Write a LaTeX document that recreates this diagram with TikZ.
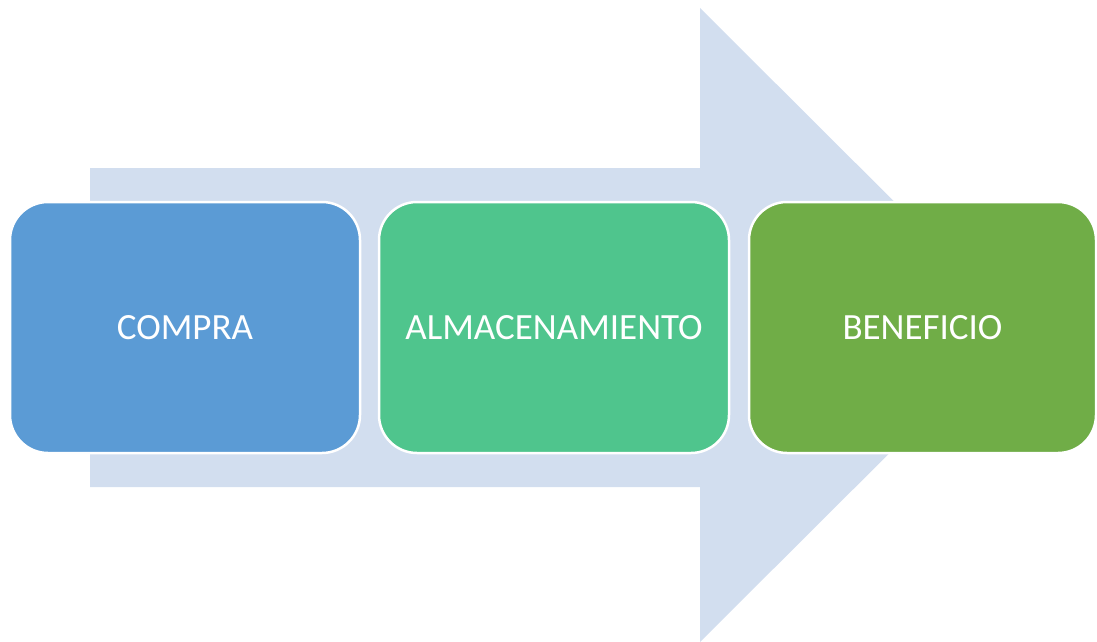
\documentclass[tikz,border=0pt]{standalone}
\usepackage{fontspec}
\setmainfont{Carlito}
\definecolor{arrowfill}{HTML}{D2DEEF}
\definecolor{boxblue}{HTML}{5B9BD5}
\definecolor{boxteal}{HTML}{4FC58D}
\definecolor{boxgreen}{HTML}{70AD47}
\begin{document}
\begin{tikzpicture}[x=1pt,y=-1pt,
  stagebox/.style={draw=white,line width=2.5pt,rounded corners=38pt,text=white,
    font=\fontsize{37}{44}\selectfont,inner sep=0pt}]
\useasboundingbox (0,0) rectangle (1097,642);
\fill[arrowfill] (90,168) -- (700,168) -- (700,8) -- (1018,325) -- (700,642) -- (700,487) -- (90,487) -- cycle;
\path[stagebox,fill=boxblue] (10,202) rectangle node (a) {COMPRA} (360,453);
\path[stagebox,fill=boxteal] (379,202) rectangle node (b) {ALMACENAMIENTO} (729,453);
\path[stagebox,fill=boxgreen] (749,202) rectangle node (c) {BENEFICIO} (1096,453);
\end{tikzpicture}
\end{document}
